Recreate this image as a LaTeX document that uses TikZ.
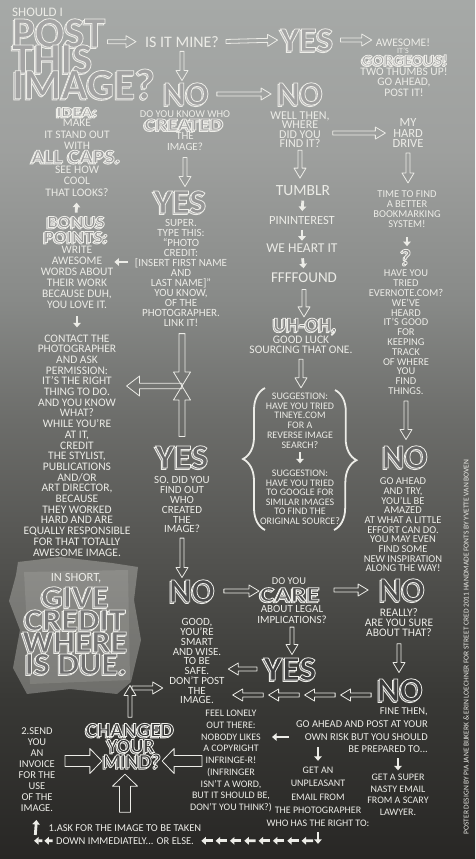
\documentclass[tikz,border=0pt]{standalone}
\usepackage{fontspec}
\setmainfont{Carlito}
\usetikzlibrary{calc,arrows.meta,decorations.pathreplacing}

\definecolor{chalk}{RGB}{236,236,231}
\pgfdeclareverticalshading{bgfade}{100bp}{%
  rgb(0bp)=(0.157,0.153,0.145); rgb(25bp)=(0.157,0.153,0.145);
  rgb(34.25bp)=(0.22,0.22,0.208); rgb(43bp)=(0.33,0.33,0.318);
  rgb(50.55bp)=(0.424,0.427,0.416); rgb(57.54bp)=(0.533,0.541,0.533);
  rgb(66.27bp)=(0.62,0.627,0.62); rgb(75bp)=(0.651,0.663,0.655);
  rgb(100bp)=(0.651,0.663,0.655)}

\newcommand\hollow[2]{{\color[gray]{#1}\special{pdf:literal direct 2 Tr 0.8 w 0.93 0.93 0.91 RG}#2\special{pdf:literal direct 0 Tr}}}
\newcommand\bigword[6][]{%
  \pgfmathsetmacro\wshade{#4+0.35*(0.9-#4)}%
  \node[word,#1] (#2s) at ($(#3)+(-1.4,1.4)$) {\hollow{\wshade}{\scalebox{#5}[1]{#6}}};
  \node[word,#1] (#2) at (#3) {\hollow{#4}{\scalebox{#5}[1]{#6}}};}

\tikzset{
  txt/.style 2 args={text=chalk, align=center, inner sep=0pt, anchor=north,
    yshift={0.316*#1pt}, font=\fontsize{#1}{#2}\selectfont},
  word/.style={inner sep=0pt, text=chalk},
  wsize/.style={font=\bfseries\fontsize{#1}{#1}\selectfont},
  arw/.store in=\arw, arW/.store in=\arW, arL/.store in=\arL,
  ga/.store in=\arGa, gb/.store in=\arGb,
  arw=2pt, arW=6pt, arL=10pt, ga=4pt, gb=4pt,
  hollow/.style={draw=chalk, line width=.8pt, line join=round, to path={
    ($(\tikztostart)!\arGa!(\tikztotarget)$) coordinate (hS)
    ($(\tikztotarget)!\arGb!(\tikztostart)$) coordinate (hT)
    ($(hS)!\arw!90:(hT)$) -- ($(hT)!\arL!(hS)!\arw!-90:(hS)$)
    -- ($(hT)!\arL!(hS)!\arW!-90:(hS)$) -- (hT)
    -- ($(hT)!\arL!(hS)!\arW!90:(hS)$) -- ($(hT)!\arL!(hS)!\arw!90:(hS)$)
    -- ($(hS)!\arw!-90:(hT)$) -- cycle}},
  wide/.style={arw=5.5pt, arW=12.5pt, arL=12pt},
  nudge/.style={draw=chalk, line width=2.8pt, -{Triangle[width=7.5pt,length=4.5pt]}},
  brace/.style={draw=chalk, line width=1.8pt, decorate, decoration={brace, amplitude=22pt}},
}

\begin{document}
\begin{tikzpicture}[x=1pt,y=-1pt]
\useasboundingbox (0,0) rectangle (475,859);
\shade[shading=bgfade] (0,0) rectangle (475,859);
\fill[chalk, opacity=.3] (18,562) -- (60,557) -- (112,563) -- (138,567) -- (134,600) -- (141,640)
  -- (131,682) -- (117,694) -- (70,689) -- (27,694) -- (13,668) -- (20,630) -- (9,601) -- (16,575) -- cycle;
\fill[chalk, opacity=.12] (24,572) -- (128,570) -- (130,680) -- (30,684) -- cycle;

% title row
\node[txt={13}{13}, anchor=north west] (should) at (12,12) {SHOULD I};
\bigword[wsize=43, anchor=west]{post}{12,33}{.648}{1}{POST}
\bigword[wsize=43, anchor=west]{this}{12,59}{.643}{1}{THIS}
\bigword[wsize=43, anchor=west]{image}{12,84}{.637}{1}{IMAGE?}
\node[txt={16}{16}] (ismine) at (182,41) {IS IT MINE?};
\bigword[wsize=34]{yes1}{307,40}{.647}{1.05}{YES}
\node[txt={11.5}{11}] (awesome) at (403,42) {AWESOME!};
\node[txt={8}{8}] (its) at (403,50) {IT'S};
\bigword[wsize=15]{gorgeous}{405,60}{.643}{1.12}{GORGEOUS!}
\node[txt={11.5}{10.5}] (thumbs) at (404,71) {TWO THUMBS UP!\\GO AHEAD,\\POST IT!};

% second row
\bigword[wsize=34]{no1}{186,94}{.635}{1}{NO}
\bigword[wsize=34]{no2}{300,94}{.635}{1}{NO}
\node[txt={10.5}{10}] (knowwho) at (185,114) {DO YOU KNOW WHO};
\bigword[wsize=17]{created}{184,124.5}{.628}{1.25}{CREATED}
\node[txt={11}{11}] (theimage) at (185,136) {THE\\IMAGE?};
\bigword[wsize=34]{yes2}{180,202}{.593}{1.05}{YES}
\node[txt={11}{10}] (super) at (181,223) {SUPER.\\TYPE THIS:\\``PHOTO\\CREDIT:\\{[}INSERT FIRST NAME\\AND\\LAST NAME]''\\YOU KNOW,\\OF THE\\PHOTOGRAPHER.\\LINK IT!};
\node[txt={12}{9.6}] (wellthen) at (300,115) {WELL THEN,\\WHERE\\DID YOU\\FIND IT?};
\node[txt={12.5}{10.8}] (harddrive) at (408,122) {MY\\HARD\\DRIVE};
\node[txt={10.5}{9.8}] (timetofind) at (407,194) {TIME TO FIND\\A BETTER\\BOOKMARKING\\SYSTEM!};
\bigword[wsize=22]{qmark}{406,257}{.562}{1}{?}
\node[txt={10.5}{9.83}] (evernote) at (406,273) {HAVE YOU\\TRIED\\EVERNOTE.COM?\\WE'VE\\HEARD\\IT'S GOOD\\FOR\\KEEPING\\TRACK\\OF WHERE\\YOU\\FIND\\THINGS.};
\bigword[wsize=34]{noR}{405,457}{.40}{1}{NO}
\node[txt={10.5}{9.67}] (goahead) at (403,481) {GO AHEAD\\AND TRY,\\YOU'LL BE\\AMAZED\\AT WHAT A LITTLE\\EFFORT CAN DO.\\YOU MAY EVEN\\FIND SOME\\NEW INSPIRATION\\ALONG THE WAY!};

% where did you find it
\node[txt={15.5}{15.5}] (tumblr) at (303,190) {TUMBLR};
\node[txt={12.5}{12.5}] (pin) at (302,220) {PININTEREST};
\node[txt={13.5}{13.5}] (weheart) at (302,248) {WE HEART IT};
\node[txt={15}{15}] (ffff) at (304,277) {FFFFOUND};
\bigword[wsize=20]{uhoh}{305,326}{.512}{1}{UH-OH,}
\node[txt={11.5}{10}] (goodluck) at (301,339) {GOOD LUCK\\SOURCING THAT ONE.};
\node[txt={10}{9.7}] (sugg1) at (300,396) {SUGGESTION:\\HAVE YOU TRIED\\TINEYE.COM\\FOR A\\REVERSE IMAGE\\SEARCH?};
\node[txt={10}{9.6}] (sugg2) at (300,473) {SUGGESTION:\\HAVE YOU TRIED\\TO GOOGLE FOR\\SIMILAR IMAGES\\TO FIND THE\\ORIGINAL SOURCE?};
\draw[brace] (265,530) -- (265,388);
\draw[brace] (335,390) -- (334,530);

% left column
\bigword[wsize=14]{idea}{77,112}{.631}{1.3}{IDEA:}
\node[txt={11.5}{11.5}] (makeit) at (77,123) {MAKE\\IT STAND OUT\\WITH};
\bigword[wsize=19]{allcaps}{76,156.5}{.62}{1.15}{ALL CAPS.}
\node[txt={11.5}{11.5}] (seehow) at (77,169) {SEE HOW\\COOL\\THAT LOOKS?};
\bigword[wsize=17]{bonus}{76,222}{.582}{1.12}{BONUS}
\bigword[wsize=17]{points}{76,237}{.574}{1.12}{POINTS:}
\node[txt={11.5}{11}] (bonustext) at (77,250) {WRITE\\AWESOME\\WORDS ABOUT\\THEIR WORK\\BECAUSE DUH,\\YOU LOVE IT.};
\node[txt={11.5}{10.7}] (contact) at (77,338) {CONTACT THE\\PHOTOGRAPHER\\AND ASK\\PERMISSION:\\IT'S THE RIGHT\\THING TO DO.\\AND YOU KNOW\\WHAT?\\WHILE YOU'RE\\AT IT,\\CREDIT\\THE STYLIST,\\PUBLICATIONS\\AND/OR\\ART DIRECTOR,\\BECAUSE\\THEY WORKED\\HARD AND ARE\\EQUALLY RESPONSIBLE\\FOR THAT TOTALLY\\AWESOME IMAGE.};
\node[txt={12.5}{12.5}] (inshort) at (76,577) {IN SHORT,};
\bigword[wsize=31]{give}{75,597}{.49}{1.1}{GIVE}
\bigword[wsize=31]{credit}{75,620}{.47}{1.1}{CREDIT}
\bigword[wsize=31]{where}{75,642}{.45}{1.1}{WHERE}
\bigword[wsize=31]{isdue}{76,664}{.43}{1.1}{IS DUE.}

% lower half
\bigword[wsize=34]{yes3}{182,457}{.40}{1.05}{YES}
\node[txt={11}{9.8}] (findout) at (182,480) {SO. DID YOU\\FIND OUT\\WHO\\CREATED\\THE\\IMAGE?};
\bigword[wsize=34]{no3}{192,591}{.30}{1}{NO}
\node[txt={10.5}{10.5}] (doyou) at (289,581) {DO YOU};
\bigword[wsize=21]{care}{290,594.5}{.296}{1.3}{CARE}
\node[txt={11}{10.5}] (legal) at (292,609) {ABOUT LEGAL\\IMPLICATIONS?};
\bigword[wsize=34]{no4}{402,590}{.30}{1}{NO}
\node[txt={11.5}{10}] (really) at (399,612) {REALLY?\\ARE YOU SURE\\ABOUT THAT?};
\bigword[wsize=34]{yes4}{290,669}{.243}{1.05}{YES}
\bigword[wsize=34]{no5}{400,690}{.227}{1}{NO}
\node[txt={11}{9.75}] (good) at (197,622) {GOOD,\\YOU'RE\\SMART\\AND WISE.\\TO BE\\SAFE.\\DON'T POST\\THE\\IMAGE.};
\node[txt={10}{11.75}] (lonely) at (231,713) {FEEL LONELY\\OUT THERE:\\NOBODY LIKES\\A COPYRIGHT\\INFRINGE-R!\\(INFRINGER\\ISN'T A WORD,\\BUT IT SHOULD BE,\\DON'T YOU THINK?)};
\node[txt={10.5}{12.7}, anchor=north east, align=right] (finethen) at (428,711) {FINE THEN,\\GO AHEAD AND POST AT YOUR\\OWN RISK BUT YOU SHOULD\\BE PREPARED TO...};
\node[txt={10}{13.25}] (getan) at (318,770) {GET AN\\UNPLEASANT\\EMAIL FROM\\THE PHOTOGRAPHER\\WHO HAS THE RIGHT TO:};
\node[txt={10}{11.7}] (lawyer) at (398,777) {GET A SUPER\\NASTY EMAIL\\FROM A SCARY\\LAWYER.};
\node[txt={10.5}{11}] (invoice) at (37,731) {2.SEND\\YOU\\AN\\INVOICE\\FOR THE\\USE\\OF THE\\IMAGE.};
\bigword[wsize=20]{changed}{130,730}{.208}{1.05}{CHANGED}
\bigword[wsize=20]{your}{131,746}{.202}{1}{YOUR}
\bigword[wsize=20]{mind}{132,761}{.196}{1}{MIND?}
\node[txt={10.5}{13}] (askfor) at (125,828) {1.ASK FOR THE IMAGE TO BE TAKEN\\DOWN IMMEDIATELY... OR ELSE.};
\node[text=chalk, inner sep=0pt, rotate=90, font=\fontsize{7.5}{7.5}\selectfont] (credits) at (466,647)
  {POSTER DESIGN BY PIA JANE BIJKERK \& ERIN LOECHNER FOR STREET CRED 2011 HANDMADE FONTS BY YVETTE VAN BOVEN};

% connectors
\draw[hollow, ga=2pt, gb=9pt] (post.east |- ismine.west) to (ismine.west);
\draw[hollow, ga=7pt, gb=3pt] (ismine.east) to (yes1.west);
\draw[hollow, ga=7pt, gb=4pt] (yes1.east) to (yes1.east -| awesome.west);
\draw[hollow, ga=4pt, gb=2pt] (ismine.south) to (ismine.south |- no1.north);
\draw[hollow, ga=8pt, gb=6pt] (no1.east) to (no2.west);
\draw[hollow, ga=6.5pt, gb=4pt] (theimage.south) to (theimage.south |- yes2.north);
\draw[hollow, ga=3pt, gb=7pt] (wellthen.east |- harddrive.west) to (harddrive.west);
\draw[hollow, ga=2pt, gb=7pt] (wellthen.south) to (wellthen.south |- tumblr.north);
\draw[hollow, ga=5pt, gb=7.7pt] (harddrive.south) to (harddrive.south |- timetofind.north);
\draw[hollow, ga=7pt, gb=1pt] (ffff.south) to (ffff.south |- uhoh.north);
\draw[hollow, ga=6pt, gb=5pt] (goodluck.south) to (goodluck.south |- sugg1.north);
\draw[hollow, ga=6pt, gb=6pt] (evernote.south) to (evernote.south |- noR.north);

\coordinate (junction) at (182,386);
\draw[hollow, arw=3pt, arW=8.5pt, arL=14pt, ga=6.5pt, gb=0pt] (junction |- super.south) to (junction);
\draw[hollow, arw=3pt, arW=8.5pt, arL=14pt, ga=9pt, gb=0pt] (junction |- yes3.north) to (junction);
\draw[hollow, arw=2.7pt, arW=10pt, arL=13pt, ga=0pt, gb=-4pt] (junction) to (contact.east |- junction);

\draw[hollow, ga=5pt, gb=2pt] (findout.south) to (findout.south |- no3.north);
\draw[hollow, ga=9pt, gb=1pt] (no3.east) to (no3.east -| care.west);
\draw[hollow, ga=14pt, gb=11pt] (no4.west -| care.east) to (no4.west);
\draw[hollow, ga=7pt, gb=6pt] (really.south) to (really.south |- no5.north);
\draw[hollow, ga=3.5pt, gb=3pt] (legal.south) to (legal.south |- yes4.north);
\draw[hollow, ga=6.5pt, gb=3.5pt] (yes4.west) to (good.east |- yes4.west);
\coordinate (chainA) at ($(no5.west)+(-6,5)$);
\coordinate (chainB) at ($(good.east |- chainA)+(2.5,0)$);
\foreach \i in {0,...,3}
  \draw[hollow, ga=0pt, gb=0pt] ($(chainA)!{\i/4}!(chainB)$) to ($(chainA)!{(\i+0.85)/4}!(chainB)$);
\draw[hollow, ga=6pt, gb=11pt] (changed.north) to (changed.north |- isdue.south);
\coordinate (fork) at (132,688);
\draw[hollow, ga=0pt, gb=6.5pt] (fork) to (good.west |- fork);
\draw[hollow, wide, ga=9.5pt, gb=1pt] (invoice.east |- mind.west) to (mind.west);
\draw[hollow, wide, ga=-12pt, gb=1pt] (lonely.west |- mind.east) to (mind.east);
\draw[hollow, wide, ga=12.5pt, gb=6pt] (askfor.north) to (askfor.north |- mind.south);

\draw[nudge, shorten <=5pt, shorten >=5pt] (tumblr.south) -- (pin.north);
\draw[nudge, shorten <=5pt, shorten >=3pt] (pin.south) -- (weheart.north);
\draw[nudge, shorten <=5.5pt, shorten >=4pt] (weheart.south) -- (ffff.north);
\draw[nudge, shorten <=4pt, shorten >=6.5pt] (sugg1.south) -- (sugg2.north);
\draw[nudge, shorten <=10pt, shorten >=3pt] (timetofind.south) -- (timetofind.south |- qmark.north);
\draw[nudge, shorten <=3.6pt, shorten >=6.4pt] (bonus.north) -- (seehow.south);
\draw[nudge, shorten <=7pt, shorten >=7pt] (bonustext.south) -- (contact.north);
\coordinate (insert) at (128,262);
\draw[nudge, shorten >=1pt] (insert) -- (insert -| bonustext.east);
\coordinate (ownrisk) at (289,737);
\draw[nudge] (ownrisk) -- (ownrisk -| lonely.east);
\draw[nudge, shorten >=6pt] ($(getan.north)+(0,-20)$) -- (getan.north);
\draw[nudge, shorten <=5pt, shorten >=3.5pt] (lawyer.north |- finethen.south) -- (lawyer.north);
\draw[nudge, shorten <=5pt] (getan.south) -- ++(0,17);
\coordinate (rowR) at ($(getan.south)+(-5,14)$);
\coordinate (rowL) at ($(askfor.east |- rowR)+(-3,0)$);
\foreach \i in {0,...,7}
  \draw[nudge] ($(rowR)!{\i/8}!(rowL)$) -- ($(rowR)!{(\i+0.8)/8}!(rowL)$);
\coordinate (rowLL) at ($(askfor.west |- rowR)+(4,0)$);
\coordinate (rowE) at ($(invoice.south |- rowR)+(-5,0)$);
\foreach \i in {0,1}
  \draw[nudge] ($(rowLL)!{\i/2}!(rowE)$) -- ($(rowLL)!{(\i+0.8)/2}!(rowE)$);
\draw[nudge, shorten <=4pt, shorten >=8pt] ($(invoice.south)+(-2,27)$) -- (invoice.south);
\end{tikzpicture}
\end{document}
